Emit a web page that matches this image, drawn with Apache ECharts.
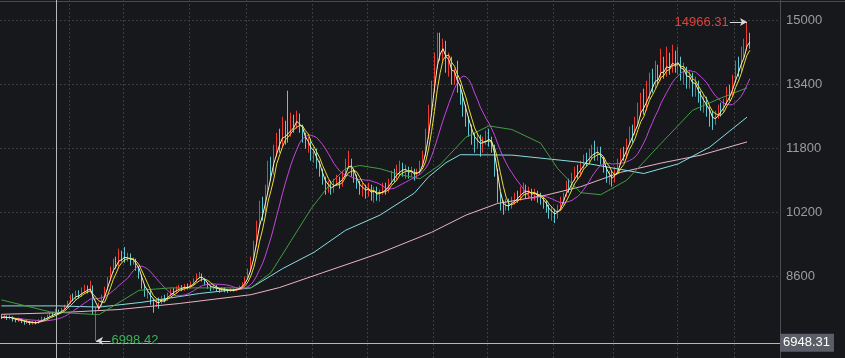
<!DOCTYPE html>
<html><head><meta charset="utf-8">
<script src="https://cdn.jsdelivr.net/npm/echarts@6/dist/echarts.min.js"></script>
<style>html,body{margin:0;padding:0;background:#17181c;}#c{width:845px;height:358px;}</style>
</head><body><div id="c"></div>
<script>
// candles: [open, close, low, high]
const candles = [
[7620,7580,7540,7660],[7580,7600,7550,7650],[7600,7560,7520,7630],[7560,7590,7530,7640],[7590,7520,7480,7610],
[7520,7500,7460,7560],[7500,7540,7470,7580],[7540,7480,7440,7560],[7480,7450,7400,7510],[7450,7470,7420,7520],
[7470,7430,7390,7490],[7430,7460,7400,7500],[7460,7440,7410,7490],[7440,7500,7420,7540],[7500,7560,7480,7600],
[7560,7530,7500,7590],[7530,7610,7510,7650],[7610,7660,7590,7700],[7660,7640,7600,7700],[7640,7720,7620,7800],
[7720,7700,7660,7780],[7700,7780,7680,7820],[7780,7850,7760,7900],[7850,7950,7820,8000],[7950,8080,7920,8150],
[8080,8050,7990,8180],[8050,8180,8020,8250],[8180,8120,8060,8260],[8120,8230,8090,8330],[8230,8300,8180,8400],
[8300,8250,8180,8380],[8250,8330,8200,8500],[8330,7700,7650,8380],[7700,7800,6998.42,7850],[7800,7900,7750,7950],
[7900,8100,7860,8150],[8100,8300,8060,8350],[8300,8550,8250,8600],[8550,8750,8500,8850],[8750,8950,8700,9050],
[8950,8880,8800,9100],[8880,9150,8850,9300],[9150,9050,8980,9250],[9180,9050,8950,9340],[9050,9120,8980,9200],
[9120,8950,8880,9180],[8950,9020,8900,9080],[9020,8800,8750,9050],[8800,8600,8550,8850],[8600,8350,8300,8650],
[8350,8150,8100,8400],[8150,8250,8050,8300],[8250,8000,7900,8280],[8000,7880,7700,8050],[7880,8020,7850,8060],
[8020,7950,7800,8080],[7950,8080,7920,8120],[8080,8020,7960,8150],[8020,8150,8000,8200],[8150,8250,8120,8300],
[8250,8200,8150,8320],[8200,8300,8180,8360],[8300,8350,8260,8400],[8350,8280,8240,8390],[8280,8380,8250,8420],
[8380,8320,8280,8430],[8320,8420,8300,8480],[8420,8500,8380,8560],[8500,8600,8460,8680],[8600,8640,8550,8720],
[8640,8520,8480,8680],[8520,8420,8380,8560],[8420,8350,8300,8460],[8350,8300,8240,8380],[8300,8360,8270,8400],
[8360,8280,8230,8390],[8280,8250,8200,8320],[8250,8300,8220,8340],[8300,8260,8210,8330],[8260,8240,8200,8290],
[8240,8280,8220,8310],[8280,8260,8230,8300],[8260,8300,8240,8330],[8300,8350,8280,8380],[8350,8420,8330,8460],
[8420,8550,8400,8600],[8550,8750,8520,8800],[8750,9050,8720,9100],[9050,9400,9000,9500],[9400,9900,9350,10000],
[9900,10300,9850,10500],[10300,10150,10000,10600],[10150,10800,10100,10900],[10800,11300,10700,11500],[11300,11200,11000,11600],
[11200,11800,11150,11900],[11800,12000,11600,12200],[12000,11900,11700,12300],[11900,12300,11850,12600],[12300,12100,11900,12500],
[12200,12150,11950,13250],[12150,12500,12100,12700],[12500,12350,12200,12650],[12350,12600,12300,12750],[12600,12300,12200,12680],
[12300,12100,11950,12400],[12100,11900,11800,12200],[11900,11950,11700,12100],[11950,11600,11500,12050],[11600,11700,11450,11850],
[11700,11400,11300,11800],[11400,11200,11100,11500],[11200,11000,10900,11300],[11000,10800,10650,11100],[10800,10900,10700,11000],
[10900,10750,10650,11000],[10750,10950,10700,11050],[10950,11050,10880,11150],[11050,10900,10800,11100],[10900,11150,10850,11250],
[11150,11400,11100,11550],[11400,11500,11300,11750],[11500,11200,11100,11550],[11200,11050,10950,11300],[11050,10900,10800,11150],
[10900,10750,10650,11000],[10750,10850,10600,10950],[10850,10700,10550,10900],[10700,10800,10600,10950],[10800,10650,10500,10900],
[10650,10750,10450,10850],[10750,10600,10500,10850],[10600,10700,10480,10780],[10700,10850,10650,10950],[10850,10750,10650,10950],
[10750,10950,10700,11050],[10950,11150,10900,11250],[11150,11050,10950,11300],[11050,11250,11000,11400],[11250,11350,11150,11500],
[11350,11200,11100,11450],[11200,11300,11050,11400],[11300,11150,11050,11350],[11150,11250,11100,11350],[11250,11100,11000,11300],
[11100,11200,11050,11300],[11200,11400,11150,11500],[11400,11650,11350,11750],[11650,12100,11600,12300],[12100,12700,12050,12900],
[12700,13300,12600,13500],[13300,13900,13200,14200],[13900,14400,13800,14700],[14400,14200,14000,14700],[14200,14300,14000,14550],
[14300,13800,13700,14500],[13800,14000,13600,14200],[14000,13500,13400,14100],[13500,13700,13400,13800],[13700,13300,13200,14000],
[13300,13100,12900,13400],[13100,12800,12600,13200],[12800,12500,12350,12900],[12500,12300,12100,12600],[12300,12100,11900,12400],
[12100,11900,11700,12200],[11900,12050,11800,12200],[12050,11850,11600,12150],[11850,11950,11700,12100],[11950,12150,11900,12250],
[12150,12000,11850,12300],[12000,11800,11700,12100],[11800,11200,11100,11900],[11200,10600,10450,11300],[10600,10400,10250,10700],
[10400,10300,10150,10500],[10300,10450,10250,10550],[10450,10350,10250,10550],[10350,10500,10300,10600],[10500,10600,10400,10700],
[10600,10550,10450,10750],[10550,10750,10500,10850],[10750,10800,10650,10950],[10800,10650,10550,10900],[10650,10750,10550,10850],
[10750,10600,10500,10800],[10600,10700,10500,10800],[10700,10600,10450,10750],[10600,10550,10400,10700],[10550,10450,10300,10600],
[10450,10300,10200,10500],[10300,10150,10050,10400],[10150,10250,10000,10350],[10250,10100,9940,10300],[10100,10300,10050,10400],
[10300,10500,10250,10600],[10500,10650,10400,10700],[10650,10900,10600,11000],[10900,10800,10700,11050],[10800,11100,10750,11200],
[11100,11250,11000,11350],[11250,11150,11050,11400],[11150,11400,11100,11500],[11400,11550,11300,11650],[11550,11450,11350,11700],
[11450,11650,11400,11800],[11650,11800,11550,11900],[11800,11600,11500,12000],[11600,11750,11500,11850],[11750,11550,11400,11850],
[11550,11300,11200,11600],[11300,11050,10950,11350],[11050,11150,10900,11250],[11150,11000,10850,11250],[11000,11250,10950,11350],
[11250,11450,11200,11550],[11450,11700,11400,11800],[11700,11600,11500,11850],[11600,11950,11550,12050],[11950,12200,11900,12350],
[12200,12100,11950,12400],[12200,12450,12150,12600],[12450,12700,12350,12950],[12700,12950,12600,13200],[12950,12800,12650,13300],
[12800,13150,12750,13500],[13150,13450,13050,13700],[13450,13350,13200,13800],[13350,13650,13300,14000],[13650,13550,13400,13900],
[13550,13900,13500,14300],[13900,13700,13550,14100],[13700,13950,13600,14350],[13950,13800,13650,14200],[13800,14050,13700,14400],
[14050,13850,13700,14250],[13850,13950,13650,14350],[13950,13650,13500,14100],[13650,13750,13400,13950],[13750,13450,13300,13850],
[13450,13600,13300,13750],[13600,13300,13100,13700],[13300,13400,13100,13600],[13400,13100,12950,13500],[13100,12900,12750,13250],
[12900,13000,12700,13150],[13000,12750,12600,13100],[12750,12550,12350,12850],[12550,12450,12270,12750],[12450,12650,12400,12750],
[12650,12800,12550,12900],[12800,12750,12600,12950],[12750,12950,12700,13050],[12950,13200,12900,13350],[13200,13150,13000,13400],
[13150,13500,13100,13650],[13500,13850,13450,14000],[13850,13750,13600,14100],[13750,14150,13700,14350],[14150,14350,14050,14550],
[14350,14600,14250,14966.31],[14600,14450,14300,14700]
];
// long moving averages: [candle index, value]
const ma30Pts = [[0,8020],[17,7720],[34,7650],[48,8260],[59,8320],[87,8320],[94,8700],[101,9500],[108,10300],[115,10950],[120,11300],[125,11380],[132,11300],[139,11150],[146,11050],[153,11400],[162,12090],[170,12370],[178,12280],[188,11940],[194,11300],[202,10700],[209,10650],[218,11010],[230,11930],[241,12760],[251,13070],[260,13320]];
const ma60Pts = [[0,7870],[20,7870],[34,7840],[49,7960],[69,8180],[87,8320],[98,8800],[109,9210],[120,9760],[132,10140],[144,10690],[149,11100],[155,11450],[160,11650],[178,11640],[190,11550],[202,11460],[224,11180],[236,11420],[247,11840],[260,12590]];
const ma250Pts = [[0,7660],[20,7700],[41,7780],[62,7930],[87,8150],[97,8330],[112,8700],[132,9190],[150,9710],[162,10140],[173,10430],[190,10640],[202,10850],[216,11210],[230,11440],[244,11640],[260,11970]];
const monthStarts = [24,43,66,86,109,128,151,170,193,214,236,256];
const yTickValues = [8600, 10200, 11800, 13400, 15000];
const yRange = {min: 6567.5, max: 15517.5};
const slotCount = 272;
const crossIndex = 19;
const crossValue = 6948.31;

const categories = [];
for (let i = 0; i < slotCount; i++) categories.push('D' + (i + 1));
const closes = candles.map(c => c[1]);
function ma(n) {
  return closes.map((_, i) => {
    const s = Math.max(0, i - n + 1);
    let sum = 0;
    for (let k = s; k <= i; k++) sum += closes[k];
    return +(sum / (i - s + 1)).toFixed(2);
  });
}
let maxIdx = 0, minIdx = 0;
candles.forEach((c, i) => { if (c[3] > candles[maxIdx][3]) maxIdx = i; if (c[2] < candles[minIdx][2]) minIdx = i; });
const maxV = candles[maxIdx][3], minV = candles[minIdx][2];

const chart = echarts.init(document.getElementById('c'), null, {renderer: 'canvas'});
const lineS = (name, data, color) => ({
  name, type: 'line', data, showSymbol: false, symbol: 'none', smooth: false,
  lineStyle: {color, width: 1}, itemStyle: {color}, silent: true, z: 3
});
chart.setOption({
  animation: false,
  backgroundColor: '#17181c',
  grid: {left: 0, right: 65, top: 0, bottom: 0},
  xAxis: {
    type: 'category', data: categories, boundaryGap: true,
    axisLine: {show: false}, axisTick: {show: false}, axisLabel: {show: false},
    splitLine: {show: true, interval: (idx) => monthStarts.indexOf(idx) >= 0,
      lineStyle: {color: '#3a3b40', type: [2, 2], width: 1}}
  },
  yAxis: {
    type: 'value', position: 'right', min: yRange.min, max: yRange.max,
    axisLine: {show: true, lineStyle: {color: '#4a4b50'}},
    axisTick: {show: false, customValues: yTickValues},
    axisLabel: {color: '#9c9c9c', fontSize: 13, fontFamily: 'Liberation Sans, Arial', margin: 6,
      customValues: yTickValues, formatter: v => String(v)},
    splitLine: {show: true, lineStyle: {color: '#3a3b40', type: [2, 2], width: 1}}
  },
  graphic: [{type: 'line', shape: {x1: 0, y1: 1.5, x2: 845, y2: 1.5}, style: {stroke: '#4a4b50', lineWidth: 1}, silent: true}],
  series: [
    {
      type: 'candlestick', data: candles, barWidth: 1, z: 2,
      itemStyle: {color: '#f03a30', color0: '#5cc9d2', borderColor: '#f03a30', borderColor0: '#5cc9d2', borderWidth: 1},
      markLine: {
        silent: true, animation: false, symbol: 'none',
        data: [
          {yAxis: crossValue, lineStyle: {color: '#b8b8b8', type: 'solid', width: 1},
           label: {show: true, position: 'end', distance: 0, formatter: String(crossValue), color: '#ffffff', fontSize: 13,
             fontFamily: 'Liberation Sans, Arial', backgroundColor: '#5b5e67', padding: [3, 4, 2, 3]}},
          {xAxis: crossIndex, lineStyle: {color: '#b8b8b8', type: 'solid', width: 1}, label: {show: false}},
          [{coord: [maxIdx - 6, maxV], symbol: 'none',
            label: {show: true, position: 'start', distance: 1, formatter: maxV.toFixed(2), color: '#e0403c', fontSize: 13, fontFamily: 'Liberation Sans, Arial'},
            lineStyle: {color: '#d8d8d8', type: 'solid', width: 1}},
           {coord: [maxIdx, maxV], symbol: 'arrow', symbolSize: [6, 7]}],
          [{coord: [minIdx, minV], symbol: 'arrow', symbolSize: [6, 7],
            lineStyle: {color: '#d8d8d8', type: 'solid', width: 1},
            label: {show: true, position: 'end', distance: 1, formatter: minV.toFixed(2), color: '#3fae5c', fontSize: 13, fontFamily: 'Liberation Sans, Arial'}},
           {coord: [minIdx + 5, minV], symbol: 'none'}]
        ]
      }
    },
    lineS('MA250', ma250Pts, '#e8b4c4'),
    lineS('MA60', ma60Pts, '#86dde3'),
    lineS('MA30', ma30Pts, '#3f9e3f'),
    lineS('MA13', ma(13), '#c446dc'),
    lineS('MA5', ma(5), '#ecdc36'),
    lineS('MA3', ma(3), '#f6f0b8')
  ]
});
</script></body></html>
